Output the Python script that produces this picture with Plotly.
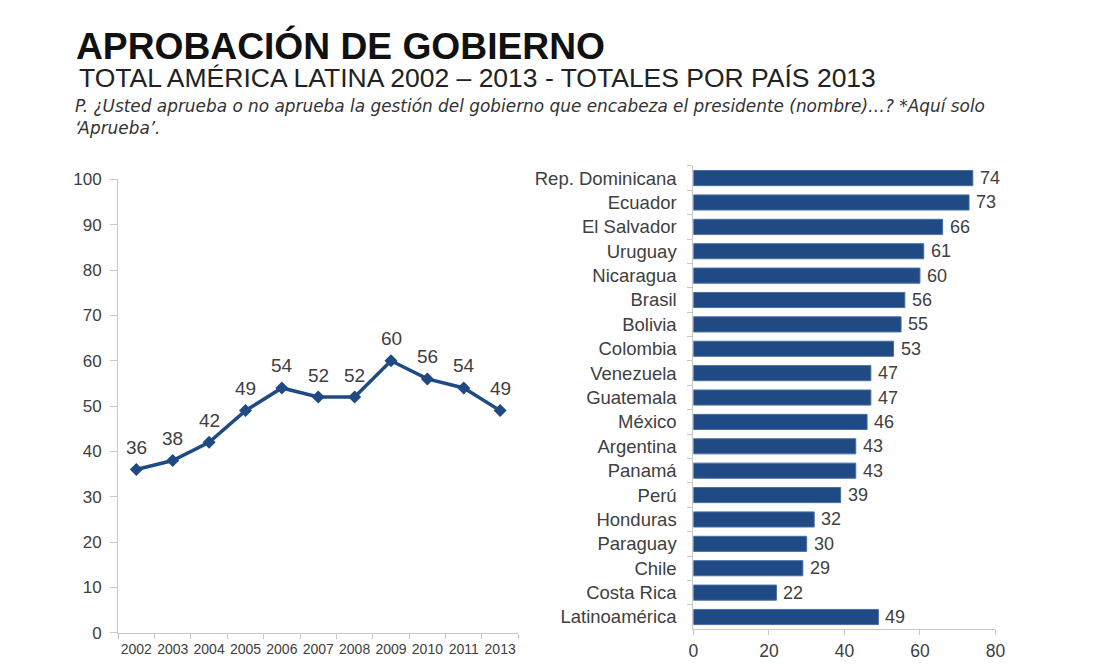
import plotly.graph_objects as go

# --- data -------------------------------------------------------------
years = ["2002", "2003", "2004", "2005", "2006", "2007",
         "2008", "2009", "2010", "2011", "2013"]
approval_total = [36, 38, 42, 49, 54, 52, 52, 60, 56, 54, 49]

countries = ["Rep. Dominicana", "Ecuador", "El Salvador", "Uruguay", "Nicaragua",
             "Brasil", "Bolivia", "Colombia", "Venezuela", "Guatemala", "México",
             "Argentina", "Panamá", "Perú", "Honduras", "Paraguay", "Chile",
             "Costa Rica", "Latinoamérica"]
approval_2013 = [74, 73, 66, 61, 60, 56, 55, 53, 47, 47, 46,
                 43, 43, 39, 32, 30, 29, 22, 49]

# --- style ------------------------------------------------------------
W, H = 1107, 666
NAVY = "#1f4a83"
TXT = "#404040"
AXIS = "#c8c8c8"
FONT = "Liberation Sans, Arial, sans-serif"
WIDE = "DejaVu Sans, Verdana, sans-serif"


def px_x(p):
    return p / W


def px_y(p):
    return 1 - p / H


fig = go.Figure()

# line chart: yearly regional total
fig.add_trace(go.Scatter(
    x=years, y=approval_total, mode="lines+markers",
    line=dict(color=NAVY, width=3.5),
    marker=dict(symbol="diamond", size=10, color=NAVY),
    xaxis="x", yaxis="y", hoverinfo="x+y", showlegend=False,
))
for i, v in enumerate(approval_total):
    fig.add_annotation(x=i, y=v, xref="x", yref="y", text=str(v),
                       showarrow=False, yshift=22,
                       font=dict(family=FONT, size=19, color=TXT))

# bar chart: 2013 by country
fig.add_trace(go.Bar(
    x=approval_2013, y=countries, orientation="h",
    marker=dict(color=NAVY, line=dict(color="#4a6fa5", width=1)),
    width=0.62, xaxis="x2", yaxis="y2", showlegend=False,
))
for c, v in zip(countries, approval_2013):
    fig.add_annotation(x=v, y=c, xref="x2", yref="y2", text=str(v),
                       showarrow=False, xanchor="left", xshift=5,
                       font=dict(family=FONT, size=18, color=TXT))

fig.update_layout(
    width=W, height=H,
    margin=dict(l=0, r=0, t=0, b=0),
    paper_bgcolor="white", plot_bgcolor="rgba(0,0,0,0)",
    font=dict(family=FONT, color=TXT),
    xaxis=dict(
        domain=[px_x(114.7), px_x(520.4)], anchor="y",
        type="category", categoryorder="array", categoryarray=years,
        range=[-0.5, len(years) - 0.5], tickangle=0,
        tickson="boundaries", ticks="outside", ticklen=5,
        tickcolor=AXIS, showline=True, linecolor=AXIS, linewidth=1,
        showgrid=False, ticklabelstandoff=4,
        tickfont=dict(family=FONT, size=14, color=TXT),
        fixedrange=True,
    ),
    yaxis=dict(
        domain=[px_y(642.0), px_y(175.5)], anchor="x",
        range=[0, 100], dtick=10, ticks="outside", ticklen=7,
        tickcolor=AXIS, showline=True, linecolor=AXIS, linewidth=1,
        showgrid=False, zeroline=False, ticklabelstandoff=5,
        tickfont=dict(family=FONT, size=17, color=TXT), fixedrange=True,
    ),
    xaxis2=dict(
        domain=[px_x(697.8), px_x(1004.1)], anchor="y2",
        range=[0, 80], dtick=20, ticks="outside", ticklen=5,
        tickcolor=AXIS, showline=True, linecolor=AXIS, linewidth=1,
        showgrid=False, zeroline=False, ticklabelstandoff=1,
        tickfont=dict(family=FONT, size=17.5, color=TXT), fixedrange=True,
    ),
    yaxis2=dict(
        domain=[px_y(638.4), px_y(161.5)], anchor="x2",
        type="category", autorange="reversed", tickson="boundaries",
        ticks="outside", ticklen=5, tickcolor=AXIS,
        showline=True, linecolor=AXIS, linewidth=1, showgrid=False,
        ticklabelstandoff=12,
        tickfont=dict(family=FONT, size=18.5, color=TXT), fixedrange=True,
    ),
)

# headings
fig.add_annotation(xref="paper", yref="paper", x=px_x(70), y=px_y(38.5),
                   xanchor="left", yanchor="middle", showarrow=False,
                   text="<b>APROBACIÓN DE GOBIERNO</b>",
                   font=dict(family=FONT, size=37.2, color="#111111"))
fig.add_annotation(xref="paper", yref="paper", x=px_x(73), y=px_y(71.5),
                   xanchor="left", yanchor="middle", showarrow=False,
                   text="TOTAL AMÉRICA LATINA 2002 – 2013 - TOTALES POR PAÍS 2013",
                   font=dict(family=FONT, size=26.5, color="#222222"))
fig.add_annotation(xref="paper", yref="paper", x=px_x(69), y=px_y(100),
                   xanchor="left", yanchor="middle", showarrow=False,
                   text="<i>P. ¿Usted aprueba o no aprueba la gestión del gobierno que encabeza el presidente (nombre)…? *Aquí solo</i>",
                   font=dict(family=WIDE, size=16.9, color="#333333"))
fig.add_annotation(xref="paper", yref="paper", x=px_x(69), y=px_y(122),
                   xanchor="left", yanchor="middle", showarrow=False,
                   text="<i>‘Aprueba’.</i>",
                   font=dict(family=WIDE, size=16.9, color="#333333"))

fig.write_html("out.html")
